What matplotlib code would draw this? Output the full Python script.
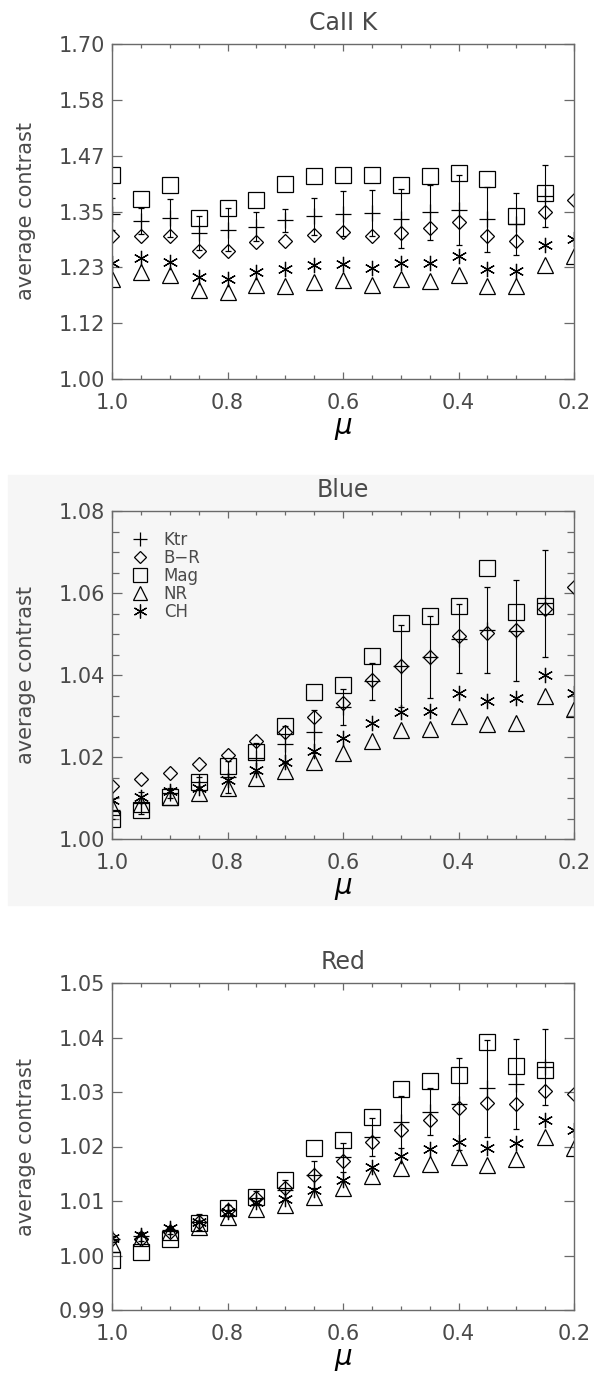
import numpy as np
import matplotlib
matplotlib.use('Agg')
import matplotlib.pyplot as plt
from matplotlib.patches import Rectangle
from matplotlib.lines import Line2D
from matplotlib.ticker import MultipleLocator, FixedLocator, FixedFormatter

nan = np.nan
mu = [1.0, 0.95, 0.9, 0.85, 0.8, 0.75, 0.7, 0.65, 0.6, 0.55, 0.5, 0.45, 0.4, 0.35, 0.3, 0.25, 0.2]

# CaII K
cak_ktr = [1.345, 1.330, 1.336, 1.305, 1.312, 1.318, 1.332, 1.340, 1.345, 1.346, 1.335, 1.348, 1.354, 1.334, 1.324, 1.382, nan]
cak_ktr_err = [0.033, 0.028, 0.040, 0.035, 0.045, 0.030, 0.024, 0.039, 0.047, 0.048, 0.062, 0.058, 0.073, 0.068, 0.064, 0.065, nan]
cak_br = [1.299, 1.298, 1.298, 1.267, 1.267, 1.286, 1.289, 1.301, 1.308, 1.299, 1.305, 1.316, 1.329, 1.299, 1.289, 1.350, 1.375]
cak_mag = [1.426, 1.377, 1.405, 1.336, 1.357, 1.375, 1.407, 1.424, 1.427, 1.426, 1.406, 1.424, 1.431, 1.417, 1.340, 1.389, nan]
cak_nr = [1.210, 1.223, 1.217, 1.186, 1.182, 1.196, 1.195, 1.203, 1.207, 1.196, 1.210, 1.204, 1.218, 1.194, 1.194, 1.238, 1.256]
cak_ch = [1.243, 1.252, 1.245, 1.213, 1.210, 1.224, 1.229, 1.238, 1.240, 1.231, 1.243, 1.243, 1.258, 1.229, 1.225, 1.280, 1.293]

# Blue
blue_ktr = [1.0070, 1.0087, 1.0112, 1.0140, 1.0151, 1.0197, 1.0232, 1.0262, 1.0322, 1.0385, 1.0423, 1.0444, 1.0489, 1.0510, 1.0508, 1.0575, nan]
blue_ktr_err = [0.0020, 0.0027, 0.0012, 0.0012, 0.0040, 0.0037, 0.0043, 0.0053, 0.0045, 0.0045, 0.0100, 0.0100, 0.0083, 0.0105, 0.0123, 0.0131, nan]
blue_br = [1.0130, 1.0146, 1.0160, 1.0182, 1.0204, 1.0240, 1.0260, 1.0297, 1.0332, 1.0387, 1.0421, 1.0443, 1.0494, 1.0503, 1.0509, 1.0561, 1.0614]
blue_mag = [1.0048, 1.0071, 1.0103, 1.0140, 1.0177, 1.0211, 1.0275, 1.0358, 1.0375, 1.0446, 1.0527, 1.0545, 1.0569, 1.0661, 1.0553, 1.0568, nan]
blue_nr = [1.0077, 1.0085, 1.0102, 1.0113, 1.0124, 1.0148, 1.0165, 1.0187, 1.0209, 1.0240, 1.0266, 1.0269, 1.0299, 1.0280, 1.0283, 1.0350, 1.0317]
blue_ch = [1.0095, 1.0103, 1.0116, 1.0125, 1.0144, 1.0169, 1.0187, 1.0215, 1.0246, 1.0283, 1.0310, 1.0311, 1.0356, 1.0336, 1.0344, 1.0401, 1.0356]

# Red
red_ktr = [1.0030, 1.0035, 1.0047, 1.0062, 1.0083, 1.0106, 1.0120, 1.0148, 1.0180, 1.0217, 1.0245, 1.0264, 1.0278, 1.0307, 1.0315, 1.0346, nan]
red_ktr_err = [0.0005, 0.0008, 0.0008, 0.0015, 0.0010, 0.0012, 0.0018, 0.0025, 0.0027, 0.0035, 0.0047, 0.0043, 0.0085, 0.0089, 0.0082, 0.0070, nan]
red_br = [1.0030, 1.0030, 1.0044, 1.0062, 1.0084, 1.0106, 1.0124, 1.0148, 1.0173, 1.0209, 1.0231, 1.0248, 1.0270, 1.0280, 1.0278, 1.0301, 1.0297]
red_mag = [0.9992, 1.0007, 1.0030, 1.0059, 1.0087, 1.0108, 1.0139, 1.0197, 1.0212, 1.0255, 1.0305, 1.0321, 1.0332, 1.0392, 1.0347, 1.0341, nan]
red_nr = [1.0022, 1.0032, 1.0044, 1.0053, 1.0070, 1.0086, 1.0093, 1.0108, 1.0124, 1.0145, 1.0160, 1.0168, 1.0180, 1.0166, 1.0177, 1.0218, 1.0198]
red_ch = [1.0032, 1.0038, 1.0051, 1.0062, 1.0079, 1.0099, 1.0104, 1.0120, 1.0139, 1.0163, 1.0182, 1.0195, 1.0208, 1.0197, 1.0206, 1.0249, 1.0231]

panels = [
    ('CaII K', cak_ktr, cak_ktr_err, cak_br, cak_mag, cak_nr, cak_ch,
     [1.00, 1.1167, 1.2333, 1.35, 1.4667, 1.5833, 1.70],
     ['1.00', '1.12', '1.23', '1.35', '1.47', '1.58', '1.70'], None),
    ('Blue', blue_ktr, blue_ktr_err, blue_br, blue_mag, blue_nr, blue_ch,
     [1.00, 1.02, 1.04, 1.06, 1.08],
     ['1.00', '1.02', '1.04', '1.06', '1.08'], 0.005),
    ('Red', red_ktr, red_ktr_err, red_br, red_mag, red_nr, red_ch,
     [0.99, 1.00, 1.01, 1.02, 1.03, 1.04, 1.05],
     ['0.99', '1.00', '1.01', '1.02', '1.03', '1.04', '1.05'], None),
]

W, H = 594, 1378
fig = plt.figure(figsize=(W / 100, H / 100), dpi=100)
fig.patches.append(Rectangle((8 / W, 1 - 905 / H), 586 / W, 430 / H,
                             transform=fig.transFigure, color='#f6f6f6', zorder=-10))

boxes = [(44, 379), (511, 839), (983, 1310)]
tcol = '#4a4a4a'
scol = '#6a6a6a'
asterisk = (6, 2, 0)

for (title, ktr, kerr, br, mag, nr, ch, yt, ylab, yminor), (top, bot) in zip(panels, boxes):
    ax = fig.add_axes([112 / W, 1 - bot / H, 462 / W, (bot - top) / H])
    ax.set_facecolor('none')
    ax.errorbar(mu, ktr, yerr=kerr, fmt='+', ms=11, mew=0.9, color='k',
                elinewidth=0.8, capsize=2.5, capthick=0.8)
    ax.plot(mu, br, 'D', ms=7, mfc='none', mec='k', mew=0.9)
    ax.plot(mu, mag, 's', ms=11, mfc='none', mec='k', mew=0.9)
    ax.plot(mu, nr, '^', ms=11, mfc='none', mec='k', mew=0.9)
    ax.plot(mu, ch, marker=asterisk, ls='none', ms=11, mec='k', mew=0.9)
    ax.set_xlim(1.0, 0.2)
    ax.set_ylim(yt[0], yt[-1])
    ax.xaxis.set_major_locator(FixedLocator([1.0, 0.8, 0.6, 0.4, 0.2]))
    ax.xaxis.set_major_formatter(FixedFormatter(['1.0', '0.8', '0.6', '0.4', '0.2']))
    ax.xaxis.set_minor_locator(MultipleLocator(0.05))
    ax.yaxis.set_major_locator(FixedLocator(yt))
    ax.yaxis.set_major_formatter(FixedFormatter(ylab))
    if yminor:
        ax.yaxis.set_minor_locator(MultipleLocator(yminor))
    ax.tick_params(axis='both', which='both', direction='in', top=True, right=True,
                   colors=scol, labelcolor=tcol, labelsize=15, width=0.9)
    ax.tick_params(axis='x', which='major', length=5, pad=10)
    ax.tick_params(axis='x', which='minor', length=3)
    ax.tick_params(axis='y', which='major', length=7, pad=5)
    ax.tick_params(axis='y', which='minor', length=5)
    for s in ax.spines.values():
        s.set_color(scol)
        s.set_linewidth(1.0)
    ax.set_title(title, fontsize=17, color=tcol, pad=10)
    ax.set_xlabel(r'$\mu$', fontsize=20, color='k', labelpad=1)
    ax.set_ylabel('average contrast', fontsize=15, color=tcol)
    ax.yaxis.set_label_coords(-0.165, 0.5)
    if title == 'Blue':
        handles = [
            Line2D([], [], marker='+', ls='none', ms=10, mew=0.9, color='k'),
            Line2D([], [], marker='D', ls='none', ms=6.5, mfc='none', mec='k', mew=0.9),
            Line2D([], [], marker='s', ls='none', ms=9.5, mfc='none', mec='k', mew=0.9),
            Line2D([], [], marker='^', ls='none', ms=9.5, mfc='none', mec='k', mew=0.9),
            Line2D([], [], marker=asterisk, ls='none', ms=10, mec='k', mew=0.9),
        ]
        ax.legend(handles, ['Ktr', 'B\u2212R', 'Mag', 'NR', 'CH'], loc='upper left',
                  frameon=False, fontsize=12, labelcolor=tcol, handlelength=1.0,
                  handletextpad=0.9, labelspacing=0.0, borderaxespad=0.9,
                  borderpad=0.3)

fig.savefig('out.png', dpi=100)
